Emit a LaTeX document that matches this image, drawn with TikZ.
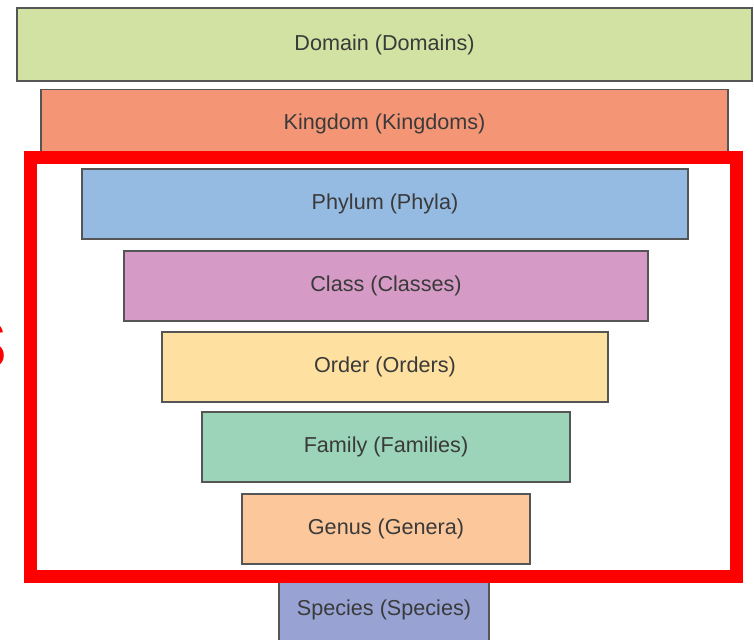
\documentclass[tikz,border=0pt]{standalone}
\usepackage{fontspec}
\setmainfont{Liberation Sans}
\definecolor{domaincol}{HTML}{D1E2A2}
\definecolor{kingdomcol}{HTML}{F49676}
\definecolor{phylumcol}{HTML}{95BBE3}
\definecolor{classcol}{HTML}{D59BC6}
\definecolor{ordercol}{HTML}{FEE0A0}
\definecolor{familycol}{HTML}{9BD4B8}
\definecolor{genuscol}{HTML}{FBC79B}
\definecolor{speciescol}{HTML}{98A3D4}
\definecolor{edgecol}{HTML}{555555}
\definecolor{labelcol}{HTML}{3A3A3A}
\definecolor{markred}{HTML}{FF0000}
\tikzset{
  rank/.style={draw=edgecol, line width=1pt, rectangle, minimum height=1.40cm,
    inner sep=0pt, text=labelcol, font=\fontsize{12.3}{14}\selectfont},
}
\begin{document}
\begin{tikzpicture}
            \useasboundingbox (0,0) rectangle (15.08,-12.8);
            \clip (0,0) rectangle (15.08,-12.8);

            \node (domain) at (7.69,-0.89) [rank, fill=domaincol, minimum width=14.70cm, minimum height=1.46cm] {Domain (Domains)};
            \node (kingdom) at (7.69,-2.48) [rank, fill=kingdomcol, minimum width=13.74cm, minimum height=1.38cm] {Kingdom (Kingdoms)};
            \node (phylum) at (7.70,-4.08) [rank, fill=phylumcol, minimum width=12.12cm] {Phylum (Phyla)};
            \node (class) at (7.72,-5.72) [rank, fill=classcol, minimum width=10.48cm] {Class (Classes)};
            \node (order) at (7.70,-7.34) [rank, fill=ordercol, minimum width=8.92cm] {Order (Orders)};
            \node (family) at (7.72,-8.94) [rank, fill=familycol, minimum width=7.36cm] {Family (Families)};
            \node (genus) at (7.72,-10.58) [rank, fill=genuscol, minimum width=5.76cm] {Genus (Genera)};
            \node (species) at (7.68,-12.20) [rank, fill=speciescol, minimum width=4.20cm] {Species (Species)};

            \draw[markred, line width=7.4pt] (0.61,-3.16) rectangle (14.73,-11.52);
            \node (mark) at (0.16,-7.28) [anchor=mid east, inner sep=0pt, text=markred, font=\fontsize{50}{56}\selectfont] {s};
        \end{tikzpicture}
\end{document}
